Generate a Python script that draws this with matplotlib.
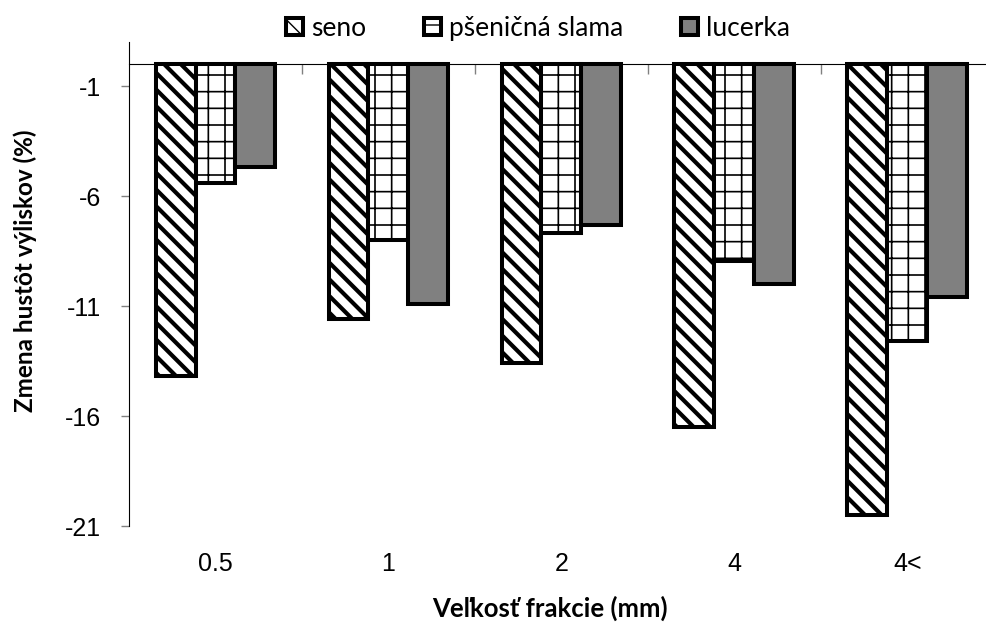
import numpy as np
import matplotlib.pyplot as plt

# zmena hustoty vyliskov podla velkosti frakcie
frakcie = ['0.5', '1', '2', '4', '4<']
seno = [-14.2, -11.6, -13.6, -16.5, -20.5]
psenicna_slama = [-5.4, -8.0, -7.7, -8.95, -12.6]
lucerka = [-4.7, -10.9, -7.3, -10.0, -10.6]

nazvy = ['seno', 'pšeničná slama', 'lucerka']
yticks = [-21, -16, -11, -6, -1]

plt.rcParams['font.family'] = ['Liberation Sans', 'DejaVu Sans']
plt.rcParams['axes.unicode_minus'] = False

fig = plt.figure(figsize=(9.87, 6.26), dpi=100)
ax = fig.add_axes([0.1307, 0.1597, 0.8763, 0.7732])

x = np.arange(len(frakcie))
w = 0.231

b1 = ax.bar(x - w, seno, w, color='white', edgecolor='black', linewidth=2.9,
            hatch='\\\\', label=nazvy[0], zorder=3)
b2 = ax.bar(x, psenicna_slama, w, color='white', edgecolor='black', linewidth=2.9,
            hatch='+', label=nazvy[1], zorder=3)
b3 = ax.bar(x + w, lucerka, w, color='#808080', edgecolor='black', linewidth=2.9,
            label=nazvy[2], zorder=3)
for p in b1:
    p.set_hatch_linewidth(3.0)
for p in b2:
    p.set_hatch_linewidth(1.2)

ax.set_xlim(-0.5, len(frakcie) - 0.5)
ax.set_ylim(-21, 1)
ax.set_yticks(yticks)
ax.tick_params(axis='y', length=6, width=1, color='#808080', labelsize=18, pad=14)

# os x prechadza nulou, ciarky medzi skupinami
ax.spines['top'].set_visible(False)
ax.spines['right'].set_visible(False)
ax.spines['bottom'].set_position(('data', 0))
ax.spines['bottom'].set_zorder(4)
ax.set_xticks(np.arange(len(frakcie) - 1) + 0.5)
ax.tick_params(axis='x', length=7, width=1, color='#808080', labelbottom=False)

# popisky kategorii dole pod grafom
sec = ax.secondary_xaxis(0)
sec.set_xticks(x, frakcie)
sec.tick_params(length=0, labelsize=18, pad=19)
sec.spines['bottom'].set_visible(False)
sec.set_xlabel('Veľkosť frakcie (mm)', fontfamily='Lato', fontweight='bold',
               fontsize=18.5, labelpad=14)
sec.xaxis.label.set_x(0.487)

ax.set_ylabel('Zmena hustôt výliskov (%)', fontfamily='Lato', fontweight='bold',
              fontsize=17.5)
ax.yaxis.set_label_coords(-0.106, 0.527)

leg = fig.legend(handles=[b1, b2, b3], loc='center', bbox_to_anchor=(0.545, 0.955),
                 ncol=3, frameon=False, prop={'family': 'Lato', 'size': 19},
                 handlelength=0.65, handleheight=0.65, handletextpad=0.3,
                 columnspacing=2.2)

fig.savefig('out.png', dpi=100)
